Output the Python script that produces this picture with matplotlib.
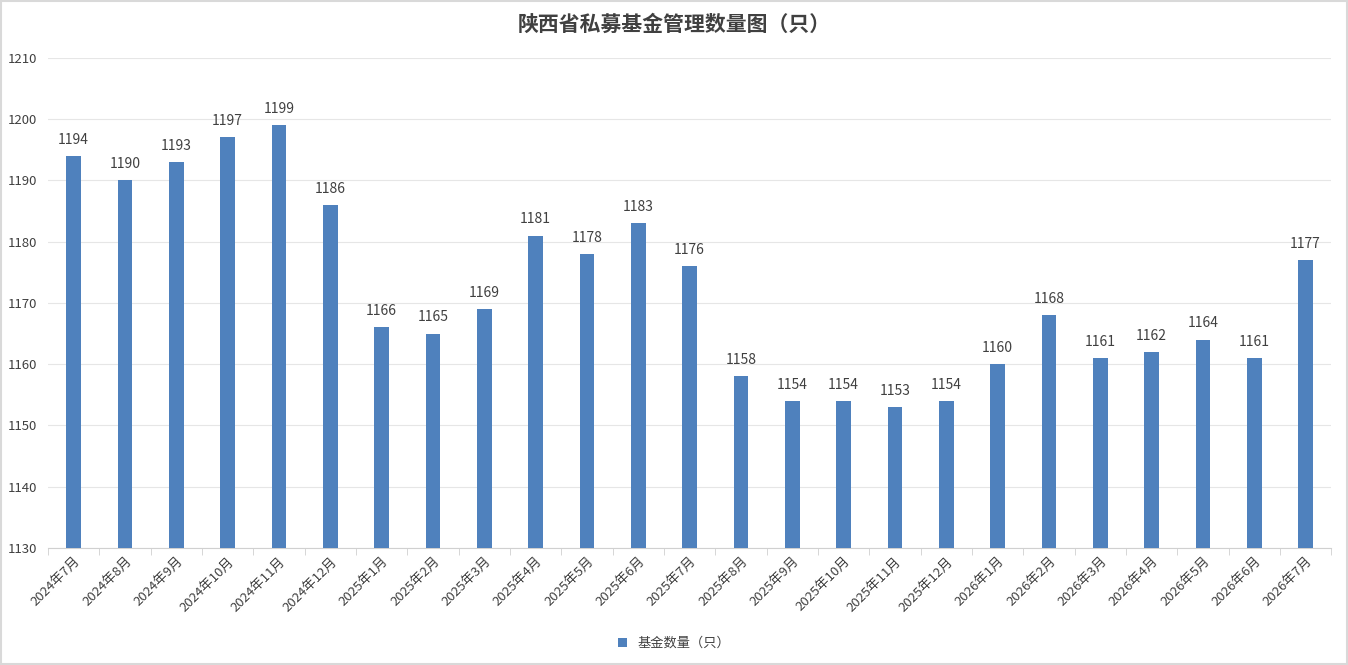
import matplotlib.pyplot as plt
import numpy as np

plt.rcParams['font.family'] = ['Noto Sans CJK SC', 'DejaVu Sans']

# data
months = ['2024年7月', '2024年8月', '2024年9月', '2024年10月', '2024年11月', '2024年12月',
          '2025年1月', '2025年2月', '2025年3月', '2025年4月', '2025年5月', '2025年6月',
          '2025年7月', '2025年8月', '2025年9月', '2025年10月', '2025年11月', '2025年12月',
          '2026年1月', '2026年2月', '2026年3月', '2026年4月', '2026年5月', '2026年6月',
          '2026年7月']
counts = [1194, 1190, 1193, 1197, 1199, 1186, 1166, 1165, 1169, 1181, 1178, 1183,
          1176, 1158, 1154, 1154, 1153, 1154, 1160, 1168, 1161, 1162, 1164, 1161, 1177]
y_ticks = [1130, 1140, 1150, 1160, 1170, 1180, 1190, 1200, 1210]

bar_color = '#4F81BD'
text_color = '#404040'

fig = plt.figure(figsize=(13.48, 6.65), dpi=100)
ax = fig.add_axes([0.0356, 0.176, 0.952, 0.737])

x = np.arange(len(months))
ax.bar(x, [c - y_ticks[0] for c in counts], bottom=y_ticks[0], width=0.29,
       color=bar_color, label='基金数量（只）', zorder=3)

# value labels
for xi, c in zip(x, counts):
    ax.text(xi, c + 1.5, str(c), ha='center', va='bottom', fontsize=10, color=text_color)

ax.set_xlim(-0.5, len(months) - 0.5)
ax.set_ylim(y_ticks[0], y_ticks[-1])
ax.set_yticks(y_ticks)
ax.set_yticklabels([str(t) for t in y_ticks], fontsize=9.5, color=text_color)
ax.yaxis.grid(True, color='#e6e6e6', linewidth=0.8, zorder=0)
ax.tick_params(axis='y', length=0, pad=8)

# category labels in the middle, tick marks on the boundaries
ax.set_xticks(x)
ax.set_xticklabels(months, rotation=45, ha='right', rotation_mode='anchor',
                   fontsize=9.5, color=text_color)
ax.set_xticks(np.arange(len(months) + 1) - 0.5, minor=True)
ax.tick_params(axis='x', which='major', length=0, pad=5)
ax.tick_params(axis='x', which='minor', length=5, color='#d0d0d0')

for side in ['top', 'right', 'left']:
    ax.spines[side].set_visible(False)
ax.spines['bottom'].set_color('#d0d0d0')

fig.text(0.5, 0.963, '陕西省私募基金管理数量图（只）', ha='center', va='center',
         fontsize=15, fontweight='bold', color=text_color)

fig.legend(loc='lower center', bbox_to_anchor=(0.5, 0.005), frameon=False, fontsize=9.5,
           handlelength=0.7, handleheight=0.7, labelcolor=text_color)

# light border around the figure
fig.patches.append(plt.Rectangle((0.001, 0.001), 0.998, 0.998, transform=fig.transFigure,
                                 fill=False, edgecolor='#d9d9d9', linewidth=1.5))

fig.savefig('out.png', dpi=100)
